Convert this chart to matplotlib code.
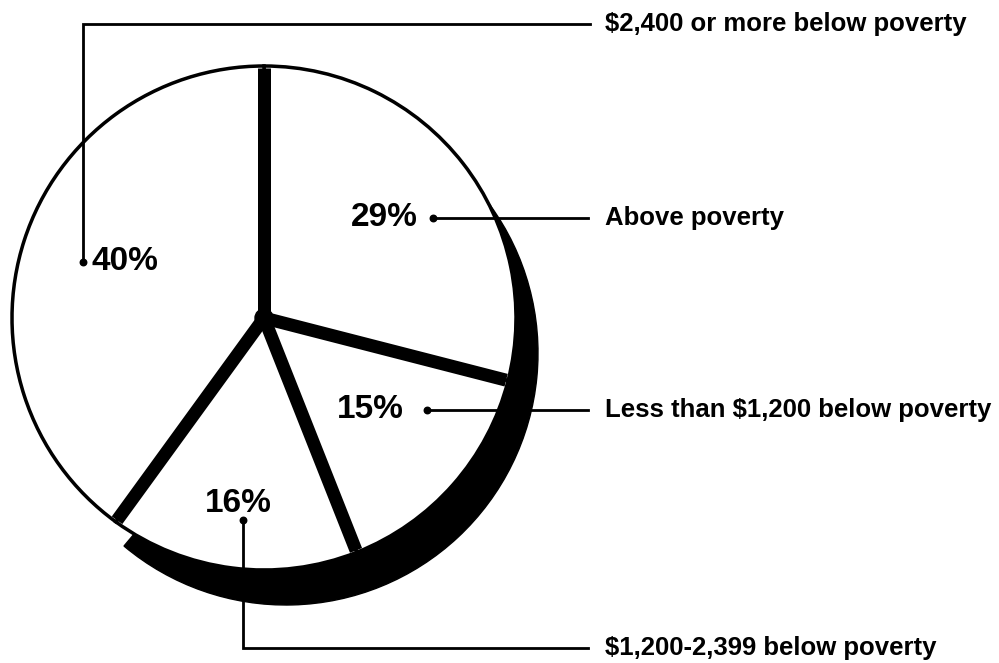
import matplotlib.pyplot as plt
from matplotlib.patches import Wedge, Circle
import numpy as np

# clockwise from 12 o'clock
shares = [29, 15, 16, 40]
pct_labels = ["29%", "15%", "16%", "40%"]
categories = ["Above poverty",
              "Less than $1,200 below poverty",
              "$1,200-2,399 below poverty",
              "$2,400 or more below poverty"]

W, H = 999, 663
PX = 0.72          # points per pixel at dpi 100
FONT = "Liberation Sans"
BLACK = "k"


def py(y):
    """pixel row counted from the top -> data y"""
    return H - y


fig = plt.figure(figsize=(W / 100, H / 100), dpi=100)
ax = fig.add_axes([0, 0, 1, 1])

cx, cy, R = 264, py(318), 252

# dark side of the disc showing under the lower right rim
side = Wedge((cx + 22, cy - 35), R, -130, 36, facecolor=BLACK,
             edgecolor=BLACK, linewidth=1, zorder=1)
ax.add_patch(side)

wedges, _ = ax.pie(shares, startangle=90, counterclock=False,
                   center=(cx, cy), radius=R,
                   wedgeprops=dict(facecolor="white", edgecolor=BLACK,
                                   linewidth=3.5 * PX))
for w in wedges:
    w.set_zorder(2)

# thick black cuts between slices
for w in wedges:
    a = np.deg2rad(w.theta1)
    ax.plot([cx, cx + (R - 2) * np.cos(a)], [cy, cy + (R - 2) * np.sin(a)],
            color=BLACK, lw=13 * PX, solid_capstyle="butt", zorder=3)
ax.add_patch(Circle((cx, cy), 9, color=BLACK, zorder=3))

# leader lines: pie label -> category text
leaders = [
    [(433, 218), (588, 218)],
    [(427, 410), (588, 410)],
    [(243, 520), (243, 648), (588, 648)],
    [(83, 262), (83, 24), (590, 24)],
]
for path in leaders:
    xs = [p[0] for p in path]
    ys = [py(p[1]) for p in path]
    ax.plot(xs, ys, color=BLACK, lw=2.8 * PX, zorder=4,
            solid_joinstyle="miter")
    ax.plot(xs[0], ys[0], "o", color=BLACK, ms=6.5 * PX, zorder=4)

pct_pos = [(384, 218, "center"), (370, 410, "center"),
           (238, 503, "center"), (91, 262, "left")]
for lab, (x, y, ha) in zip(pct_labels, pct_pos):
    ax.text(x, py(y), lab, ha=ha, va="center", fontsize=24,
            fontweight="bold", family=FONT, color=BLACK, zorder=5,
            parse_math=False)

for lab, path in zip(categories, leaders):
    y = path[-1][1]
    ax.text(605, py(y), lab, ha="left", va="center", fontsize=18.5,
            fontweight="bold", family=FONT, color=BLACK, parse_math=False)

ax.set_xlim(0, W)
ax.set_ylim(0, H)
ax.set_aspect("equal")
ax.axis("off")

fig.savefig("out.png", dpi=100, facecolor="white")
